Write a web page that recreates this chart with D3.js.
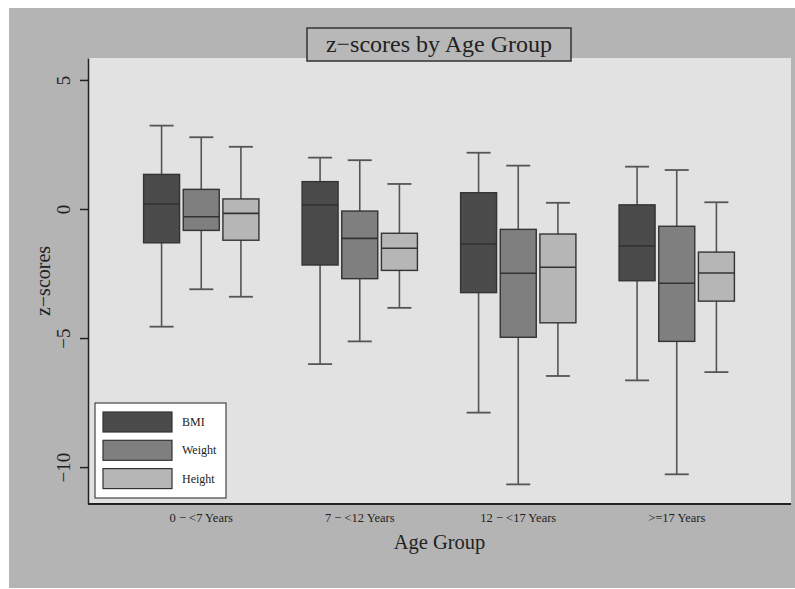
<!DOCTYPE html>
<html>
<head>
<meta charset="utf-8">
<script src="https://cdn.jsdelivr.net/npm/d3@7"></script>
<style>
  body { margin: 0; background: #fff; }
  text { font-family: "Liberation Serif", "DejaVu Serif", serif; }
</style>
</head>
<body>
<div id="chart"></div>
<script>

// age groups on the x axis
var groups = ["0 \u2212 <7 Years", "7 \u2212 <12 Years", "12 \u2212 <17 Years", ">=17 Years"]
var series = ["BMI", "Weight", "Height"]
var seriesColors = ["#4b4b4b", "#7f7f7f", "#b6b6b6"]

// box stats per series, one value per age group
var lowWhisker = {
    BMI:    [-4.56, -6.01, -7.89, -6.64],
    Weight: [-3.11, -5.13, -10.67, -10.28],
    Height: [-3.40, -3.83, -6.47, -6.32]
}
var q1 = {
    BMI:    [-1.31, -2.17, -3.24, -2.78],
    Weight: [-0.83, -2.70, -4.97, -5.13],
    Height: [-1.21, -2.38, -4.41, -3.57]
}
var median = {
    BMI:    [0.19, 0.16, -1.36, -1.43],
    Weight: [-0.30, -1.14, -2.49, -2.88],
    Height: [-0.17, -1.52, -2.26, -2.48]
}
var q3 = {
    BMI:    [1.34, 1.06, 0.63, 0.16],
    Weight: [0.76, -0.08, -0.79, -0.67],
    Height: [0.39, -0.94, -0.97, -1.67]
}
var highWhisker = {
    BMI:    [3.23, 1.99, 2.18, 1.64],
    Weight: [2.78, 1.89, 1.68, 1.51],
    Height: [2.41, 0.97, 0.24, 0.26]
}

var yTicks = [5, 0, -5, -10]

var W = 795, H = 589
var plot = {left: 88, top: 58, right: 791, bottom: 504}

var svg = d3.select("#chart").append("svg")
    .attr("width", W)
    .attr("height", H)

// outer gray background
svg.append("rect")
    .attr("x", 9).attr("y", 8)
    .attr("width", 786).attr("height", 580)
    .attr("fill", "#b4b4b4")

// plot region
svg.append("rect")
    .attr("x", plot.left).attr("y", plot.top)
    .attr("width", plot.right - plot.left)
    .attr("height", plot.bottom - plot.top)
    .attr("fill", "#e2e2e2")

var y = d3.scaleLinear()
    .domain([-11.43, 5.85])
    .range([plot.bottom, plot.top])

var x0 = d3.scaleBand()
    .domain(groups)
    .range([122, 756])

var x1 = d3.scaleBand()
    .domain(series)
    .range([0, 119])

var boxW = 36, capW = 24

var rows = []
groups.forEach(function (g, gi) {
    series.forEach(function (s, si) {
        rows.push({
            g: g, s: s, color: seriesColors[si],
            lo: lowWhisker[s][gi], q1: q1[s][gi], med: median[s][gi],
            q3: q3[s][gi], hi: highWhisker[s][gi]
        })
    })
})

function cx(d) {
    return x0(d.g) + (x0.bandwidth() - x1.range()[1]) / 2 + x1(d.s) + x1.bandwidth() / 2
}

var boxes = svg.append("g").selectAll("g.box")
    .data(rows)
    .enter().append("g")
    .attr("class", "box")

// whiskers
boxes.append("line")
    .attr("x1", cx).attr("x2", cx)
    .attr("y1", function (d) { return y(d.hi) })
    .attr("y2", function (d) { return y(d.lo) })
    .attr("stroke", "#555").attr("stroke-width", 1.6)

boxes.selectAll("line.cap")
    .data(function (d) { return [d.hi, d.lo].map(function (v) { return {d: d, v: v} }) })
    .enter().append("line")
    .attr("class", "cap")
    .attr("x1", function (c) { return cx(c.d) - capW / 2 })
    .attr("x2", function (c) { return cx(c.d) + capW / 2 })
    .attr("y1", function (c) { return y(c.v) })
    .attr("y2", function (c) { return y(c.v) })
    .attr("stroke", "#555").attr("stroke-width", 1.8)

boxes.append("rect")
    .attr("x", function (d) { return cx(d) - boxW / 2 })
    .attr("y", function (d) { return y(d.q3) })
    .attr("width", boxW)
    .attr("height", function (d) { return y(d.q1) - y(d.q3) })
    .attr("fill", function (d) { return d.color })
    .attr("stroke", "#333").attr("stroke-width", 1.4)

boxes.append("line")
    .attr("x1", function (d) { return cx(d) - boxW / 2 })
    .attr("x2", function (d) { return cx(d) + boxW / 2 })
    .attr("y1", function (d) { return y(d.med) })
    .attr("y2", function (d) { return y(d.med) })
    .attr("stroke", "#333").attr("stroke-width", 1.6)

// y axis
var yAxis = svg.append("g")
    .attr("transform", "translate(" + plot.left + ",0)")
    .call(d3.axisLeft(y).tickValues(yTicks).tickSize(8).tickSizeOuter(0)
        .tickFormat(function (d) { return d < 0 ? "\u2212" + Math.abs(d) : d }))
yAxis.select(".domain").attr("stroke", "#222").attr("stroke-width", 1.5)
yAxis.selectAll(".tick line").attr("stroke", "#222").attr("stroke-width", 1.5)
yAxis.selectAll(".tick text")
    .attr("x", null).attr("dy", null)
    .attr("transform", "translate(-25,0) rotate(-90)")
    .attr("text-anchor", "middle")
    .attr("dominant-baseline", "central")
    .attr("font-size", 19)
    .attr("font-family", "Liberation Serif")
    .attr("fill", "#222")

// x axis
var xAxis = svg.append("g")
    .attr("transform", "translate(0," + plot.bottom + ")")
    .call(d3.axisBottom(x0).tickSize(0).tickPadding(9))
xAxis.select(".domain").attr("stroke", "#222").attr("stroke-width", 2)
    .attr("d", "M" + plot.left + ",0H" + plot.right)
xAxis.selectAll(".tick text")
    .attr("font-size", 12.5)
    .attr("font-family", "Liberation Serif")
    .attr("fill", "#222")

// axis titles
svg.append("text")
    .attr("transform", "translate(43," + ((plot.top + plot.bottom) / 2) + ") rotate(-90)")
    .attr("text-anchor", "middle")
    .attr("dominant-baseline", "central")
    .attr("font-size", 20)
    .attr("fill", "#222")
    .text("z\u2212scores")

svg.append("text")
    .attr("x", (plot.left + plot.right) / 2)
    .attr("y", 549)
    .attr("text-anchor", "middle")
    .attr("font-size", 20.5)
    .attr("fill", "#222")
    .text("Age Group")

// title box
svg.append("rect")
    .attr("x", 307).attr("y", 28)
    .attr("width", 264).attr("height", 33)
    .attr("fill", "#b8b8b8")
    .attr("stroke", "#333").attr("stroke-width", 1.5)

svg.append("text")
    .attr("x", 439).attr("y", 52)
    .attr("text-anchor", "middle")
    .attr("font-size", 24)
    .attr("fill", "#222")
    .text("z\u2212scores by Age Group")

// legend
var legend = svg.append("g")
legend.append("rect")
    .attr("x", 95).attr("y", 403)
    .attr("width", 131).attr("height", 95)
    .attr("fill", "#fff")
    .attr("stroke", "#444").attr("stroke-width", 1.2)

var li = legend.selectAll("g.item")
    .data(series)
    .enter().append("g")
    .attr("transform", function (d, i) { return "translate(103," + (412 + i * 28.3) + ")" })

li.append("rect")
    .attr("width", 69).attr("height", 20)
    .attr("fill", function (d, i) { return seriesColors[i] })
    .attr("stroke", "#333").attr("stroke-width", 1.2)

li.append("text")
    .attr("x", 79).attr("y", 10)
    .attr("dominant-baseline", "central")
    .attr("font-size", 12)
    .attr("fill", "#222")
    .text(function (d) { return d })

</script>
</body>
</html>
